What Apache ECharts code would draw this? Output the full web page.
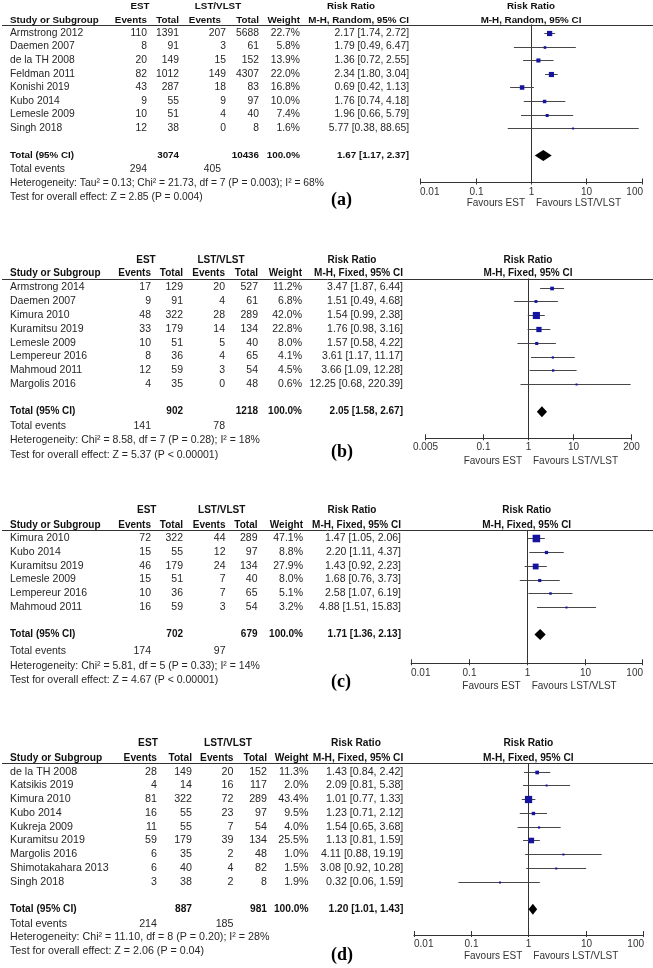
<!DOCTYPE html>
<html><head><meta charset="utf-8">
<script src="https://cdn.jsdelivr.net/npm/echarts@6.0.0/dist/echarts.min.js"></script>
<style>html,body{margin:0;padding:0;background:#fff}#c{width:653px;height:968px}</style>
</head><body><div id="c"></div><script>
// ---------- Panel (a) ----------
const studiesA = ['Armstrong 2012','Daemen 2007','de la TH 2008','Feldman 2011','Konishi 2019','Kubo 2014','Lemesle 2009','Singh 2018'];
const estEventsA = [110,8,20,82,43,9,10,12];
const estTotalA = [1391,91,149,1012,287,55,51,38];
const lstEventsA = [207,3,15,149,18,9,4,0];
const lstTotalA = [5688,61,152,4307,83,97,40,8];
const weightA = [22.7,5.8,13.9,22.0,16.8,10.0,7.4,1.6];
const rrA = [2.17,1.79,1.36,2.34,0.69,1.76,1.96,5.77];
const lowerA = [1.74,0.49,0.72,1.80,0.42,0.74,0.66,0.38];
const upperA = [2.72,6.47,2.55,3.04,1.13,4.18,5.79,88.65];
const totalsA = [3074,10436,100.0];
const pooledA = [1.67,1.17,2.37];
const totalEventsA = [294,405];
const methodA = 'M-H, Random, 95% CI';
const hetA = 'Heterogeneity: Tau\u00b2 = 0.13; Chi\u00b2 = 21.73, df = 7 (P = 0.003); I\u00b2 = 68%';
const testA = 'Test for overall effect: Z = 2.85 (P = 0.004)';
const ticksA = [0.01,0.1,1,10,100];

// ---------- Panel (b) ----------
const studiesB = ['Armstrong 2014','Daemen 2007','Kimura 2010','Kuramitsu 2019','Lemesle 2009','Lempereur 2016','Mahmoud 2011','Margolis 2016'];
const estEventsB = [17,9,48,33,10,8,12,4];
const estTotalB = [129,91,322,179,51,36,59,35];
const lstEventsB = [20,4,28,14,5,4,3,0];
const lstTotalB = [527,61,289,134,40,65,54,48];
const weightB = [11.2,6.8,42.0,22.8,8.0,4.1,4.5,0.6];
const rrB = [3.47,1.51,1.54,1.76,1.57,3.61,3.66,12.25];
const lowerB = [1.87,0.49,0.99,0.98,0.58,1.17,1.09,0.68];
const upperB = [6.44,4.68,2.38,3.16,4.22,11.17,12.28,220.39];
const totalsB = [902,1218,100.0];
const pooledB = [2.05,1.58,2.67];
const totalEventsB = [141,78];
const methodB = 'M-H, Fixed, 95% CI';
const hetB = 'Heterogeneity: Chi\u00b2 = 8.58, df = 7 (P = 0.28); I\u00b2 = 18%';
const testB = 'Test for overall effect: Z = 5.37 (P < 0.00001)';
const ticksB = [0.005,0.1,1,10,200];

// ---------- Panel (c) ----------
const studiesC = ['Kimura 2010','Kubo 2014','Kuramitsu 2019','Lemesle 2009','Lempereur 2016','Mahmoud 2011'];
const estEventsC = [72,15,46,15,10,16];
const estTotalC = [322,55,179,51,36,59];
const lstEventsC = [44,12,24,7,7,3];
const lstTotalC = [289,97,134,40,65,54];
const weightC = [47.1,8.8,27.9,8.0,5.1,3.2];
const rrC = [1.47,2.20,1.43,1.68,2.58,4.88];
const lowerC = [1.05,1.11,0.92,0.76,1.07,1.51];
const upperC = [2.06,4.37,2.23,3.73,6.19,15.83];
const totalsC = [702,679,100.0];
const pooledC = [1.71,1.36,2.13];
const totalEventsC = [174,97];
const methodC = 'M-H, Fixed, 95% CI';
const hetC = 'Heterogeneity: Chi\u00b2 = 5.81, df = 5 (P = 0.33); I\u00b2 = 14%';
const testC = 'Test for overall effect: Z = 4.67 (P < 0.00001)';
const ticksC = [0.01,0.1,1,10,100];

// ---------- Panel (d) ----------
const studiesD = ['de la TH 2008','Katsikis 2019','Kimura 2010','Kubo 2014','Kukreja 2009','Kuramitsu 2019','Margolis 2016','Shimotakahara 2013','Singh 2018'];
const estEventsD = [28,4,81,16,11,59,6,6,3];
const estTotalD = [149,14,322,55,55,179,35,40,38];
const lstEventsD = [20,16,72,23,7,39,2,4,2];
const lstTotalD = [152,117,289,97,54,134,48,82,8];
const weightD = [11.3,2.0,43.4,9.5,4.0,25.5,1.0,1.5,1.9];
const rrD = [1.43,2.09,1.01,1.23,1.54,1.13,4.11,3.08,0.32];
const lowerD = [0.84,0.81,0.77,0.71,0.65,0.81,0.88,0.92,0.06];
const upperD = [2.42,5.38,1.33,2.12,3.68,1.59,19.19,10.28,1.59];
const totalsD = [887,981,100.0];
const pooledD = [1.20,1.01,1.43];
const totalEventsD = [214,185];
const methodD = 'M-H, Fixed, 95% CI';
const hetD = 'Heterogeneity: Chi\u00b2 = 11.10, df = 8 (P = 0.20); I\u00b2 = 28%';
const testD = 'Test for overall effect: Z = 2.06 (P = 0.04)';
const ticksD = [0.01,0.1,1,10,100];

const tags = ['(a)','(b)','(c)','(d)'];

// ---------- Layout (pixel positions, separate from data) ----------
const layouts = [
  {hdr1:6, hdr2:20, under:24.5, row0:33, step:13.6, foot:[169,183,197], axisY:182.5, labelY:192.5, favY:203.5, tagY:200,
   x1px:531, decade:55.3, fs:10.3, center:false,
   cols:{name:10, ee:147, et:179, le:226, leH:221, lt:259, w:300, rr:409, estC:140, lstC:218, rrHC:351}},
  {hdr1:260, hdr2:273.3, under:278.5, row0:287.5, step:13.8, foot:[426,440.5,455], axisY:438.3, labelY:447.5, favY:461, tagY:452,
   x1px:528, decade:44.6, fs:10.5, center:true,
   cols:{name:10, ee:151, et:183, le:225, leH:225, lt:258, w:302, rr:403, estC:146, lstC:221, rrHC:352}},
  {hdr1:510.7, hdr2:525, under:530, row0:538.3, step:13.75, foot:[651.5,666,680], axisY:663.3, labelY:673.3, favY:686, tagY:682,
   x1px:526.7, decade:57.8, fs:10.5, center:false,
   cols:{name:10, ee:151, et:183, le:225.5, leH:225.5, lt:257.5, w:303, rr:401, estC:146.7, lstC:221.7, rrHC:352}},
  {hdr1:743.3, hdr2:758.3, under:763.3, row0:771.7, step:13.75, foot:[924,937.5,951], axisY:935, labelY:944.5, favY:956.7, tagY:955,
   x1px:528.3, decade:57.2, fs:10.7, center:false,
   cols:{name:10, ee:157, et:192, le:233.5, leH:233.5, lt:267, w:308.5, rr:403.3, estC:148, lstC:228, rrHC:356}}
];

const panels = [
  {studies:studiesA, ee:estEventsA, et:estTotalA, le:lstEventsA, lt:lstTotalA, w:weightA, rr:rrA, lo:lowerA, hi:upperA, totals:totalsA, pooled:pooledA, tev:totalEventsA, method:methodA, het:hetA, test:testA, ticks:ticksA},
  {studies:studiesB, ee:estEventsB, et:estTotalB, le:lstEventsB, lt:lstTotalB, w:weightB, rr:rrB, lo:lowerB, hi:upperB, totals:totalsB, pooled:pooledB, tev:totalEventsB, method:methodB, het:hetB, test:testB, ticks:ticksB},
  {studies:studiesC, ee:estEventsC, et:estTotalC, le:lstEventsC, lt:lstTotalC, w:weightC, rr:rrC, lo:lowerC, hi:upperC, totals:totalsC, pooled:pooledC, tev:totalEventsC, method:methodC, het:hetC, test:testC, ticks:ticksC},
  {studies:studiesD, ee:estEventsD, et:estTotalD, le:lstEventsD, lt:lstTotalD, w:weightD, rr:rrD, lo:lowerD, hi:upperD, totals:totalsD, pooled:pooledD, tev:totalEventsD, method:methodD, het:hetD, test:testD, ticks:ticksD}
];

const FONT = '"Liberation Sans", Arial, sans-serif';
const TXT = '#262626', HDR = '#111';
const G = [];
function txt(x, y, s, size, bold, align, fill) {
  G.push({type:'text', x:x, y:y, silent:true,
    style:{text:s, fill:fill || (bold ? HDR : TXT), font:(bold ? 'bold ' : '') + size + 'px ' + FONT,
      align:align || 'left', verticalAlign:'middle'}});
}
function fmtRR(r, l, h) { return r.toFixed(2) + ' [' + l.toFixed(2) + ', ' + h.toFixed(2) + ']'; }
const lg = Math.log10;

const grids = [], xAxes = [], yAxes = [], series = [];

panels.forEach((p, k) => {
  const L = layouts[k], C = L.cols, fs = L.fs, fb = fs - 0.5;
  const n = p.studies.length, totalIdx = n + 1;
  // header
  txt(C.estC, L.hdr1, 'EST', fb, true, 'center');
  txt(C.lstC, L.hdr1, 'LST/VLST', fb, true, 'center');
  txt(C.rrHC, L.hdr1, 'Risk Ratio', fb, true, 'center');
  txt(L.x1px, L.hdr1, 'Risk Ratio', fb, true, 'center');
  txt(C.name, L.hdr2, 'Study or Subgroup', fb, true, 'left');
  txt(C.ee, L.hdr2, 'Events', fb, true, 'right');
  txt(C.et, L.hdr2, 'Total', fb, true, 'right');
  txt(C.leH, L.hdr2, 'Events', fb, true, 'right');
  txt(C.lt, L.hdr2, 'Total', fb, true, 'right');
  txt(C.w, L.hdr2, 'Weight', fb, true, 'right');
  txt(C.rr, L.hdr2, p.method, fb, true, 'right');
  txt(L.x1px, L.hdr2, p.method, fb, true, 'center');
  const uy = Math.round(L.under) + 0.5;
  G.push({type:'line', silent:true, shape:{x1:2, y1:uy, x2:653, y2:uy}, style:{stroke:'#333', lineWidth:1}});
  // rows
  p.studies.forEach((s, i) => {
    const y = L.row0 + i * L.step;
    txt(C.name, y, s, fs, false, 'left');
    txt(C.ee, y, String(p.ee[i]), fs, false, 'right');
    txt(C.et, y, String(p.et[i]), fs, false, 'right');
    txt(C.le, y, String(p.le[i]), fs, false, 'right');
    txt(C.lt, y, String(p.lt[i]), fs, false, 'right');
    txt(C.w, y, p.w[i].toFixed(1) + '%', fs, false, 'right');
    txt(C.rr, y, fmtRR(p.rr[i], p.lo[i], p.hi[i]), fs, false, 'right');
  });
  // total
  const ty = L.row0 + totalIdx * L.step;
  txt(C.name, ty, 'Total (95% CI)', fb, true, 'left');
  txt(C.et, ty, String(p.totals[0]), fb, true, 'right');
  txt(C.lt, ty, String(p.totals[1]), fb, true, 'right');
  txt(C.w, ty, p.totals[2].toFixed(1) + '%', fb, true, 'right');
  txt(C.rr, ty, fmtRR(p.pooled[0], p.pooled[1], p.pooled[2]), fb, true, 'right');
  // footer
  txt(C.name, L.foot[0], 'Total events', fs, false, 'left');
  txt(C.ee, L.foot[0], String(p.tev[0]), fs, false, 'right');
  txt(C.leH, L.foot[0], String(p.tev[1]), fs, false, 'right');
  txt(C.name, L.foot[1], p.het, fs, false, 'left');
  txt(C.name, L.foot[2], p.test, fs, false, 'left');
  // favours + tag
  txt(L.x1px - 6, L.favY, 'Favours EST', 10, false, 'right', '#333');
  txt(L.x1px + 5, L.favY, 'Favours LST/VLST', 10, false, 'left', '#333');
  G.push({type:'text', x:331, y:L.tagY, silent:true,
    style:{text:tags[k], fill:'#000', font:'bold 18px "Liberation Serif", "Times New Roman", serif', align:'left', verticalAlign:'middle'}});

  // plot coordinate system
  const xmin = lg(p.ticks[0]), xmax = lg(p.ticks[p.ticks.length - 1]);
  const left = L.x1px + xmin * L.decade, width = (xmax - xmin) * L.decade;
  const yMin = (L.under - L.row0) / L.step, yMax = (L.axisY - L.row0) / L.step;
  grids.push({left:left, top:L.under, width:width, height:L.axisY - L.under, containLabel:false});
  xAxes.push({type:'value', gridIndex:k, min:xmin, max:xmax, position:'bottom',
    axisLine:{show:true, onZero:false, lineStyle:{color:'#333', width:1}}, axisTick:{show:false}, axisLabel:{show:false}, splitLine:{show:false}});
  yAxes.push({type:'value', gridIndex:k, min:yMin, max:yMax, inverse:true, show:false, splitLine:{show:false},
    axisLine:{onZero:false}});

  // reference line at RR = 1
  series.push({type:'custom', xAxisIndex:k, yAxisIndex:k, silent:true, data:[[lg(1), yMin]],
    renderItem:(params, api) => {
      const cs = params.coordSys, c = api.coord([api.value(0), api.value(1)]);
      const x = Math.round(c[0]) + 0.5;
      return {type:'line', shape:{x1:x, y1:cs.y, x2:x, y2:cs.y + cs.height}, style:{stroke:'#333', lineWidth:1}};
    }});
  // CI lines + weighted squares
  series.push({type:'custom', xAxisIndex:k, yAxisIndex:k, silent:true,
    data:p.rr.map((v, i) => [lg(p.lo[i]), lg(p.hi[i]), lg(v), i, p.w[i]]),
    encode:{x:[0, 1, 2], y:3},
    renderItem:(params, api) => {
      const cs = params.coordSys;
      const a = api.coord([api.value(0), api.value(3)]);
      const b = api.coord([api.value(1), api.value(3)]);
      const c = api.coord([api.value(2), api.value(3)]);
      const x0 = Math.max(a[0], cs.x), x1 = Math.min(b[0], cs.x + cs.width);
      const s = Math.max(2, 1.1 * Math.sqrt(api.value(4)));
      const y = Math.round(c[1]) + 0.5;
      return {type:'group', children:[
        {type:'line', shape:{x1:x0, y1:y, x2:x1, y2:y}, style:{stroke:'#474747', lineWidth:1}},
        {type:'rect', shape:{x:c[0] - s / 2, y:y - s / 2, width:s, height:s}, style:{fill:'#1414a0'}}
      ]};
    }});
  // pooled diamond
  series.push({type:'custom', xAxisIndex:k, yAxisIndex:k, silent:true,
    data:[[lg(p.pooled[1]), lg(p.pooled[2]), lg(p.pooled[0]), totalIdx]],
    encode:{x:[0, 1, 2], y:3},
    renderItem:(params, api) => {
      const a = api.coord([api.value(0), api.value(3)]);
      const b = api.coord([api.value(1), api.value(3)]);
      const c = api.coord([api.value(2), api.value(3)]);
      const h = 5.5;
      return {type:'polygon', shape:{points:[[a[0], c[1]], [c[0], c[1] - h], [b[0], c[1]], [c[0], c[1] + h]]}, style:{fill:'#000'}};
    }});
  // axis ticks + labels
  const nt = p.ticks.length, centered = L.center, dy = L.labelY - L.axisY;
  series.push({type:'custom', xAxisIndex:k, yAxisIndex:k, silent:true,
    data:p.ticks.map((t, j) => [lg(t), yMax, j]),
    renderItem:(params, api) => {
      const c = api.coord([api.value(0), api.value(1)]);
      const j = api.value(2);
      const x = Math.round(c[0]) + 0.5;
      const align = centered ? 'center' : (j === 0 ? 'left' : (j === nt - 1 ? 'right' : 'center'));
      const label = String(p.ticks[j]);
      return {type:'group', children:[
        {type:'line', shape:{x1:x, y1:c[1] - 4, x2:x, y2:c[1] + 2}, style:{stroke:'#333', lineWidth:1}},
        {type:'text', x:(align === 'left' ? x - 0.5 : (align === 'right' ? x + 0.5 : x)), y:c[1] + dy,
          style:{text:label, fill:'#333', font:'10px ' + FONT, align:align, verticalAlign:'middle'}}
      ]};
    }});
});

const chart = echarts.init(document.getElementById('c'), null, {renderer:'canvas'});
chart.setOption({
  animation:false,
  backgroundColor:'#fff',
  grid:grids, xAxis:xAxes, yAxis:yAxes, series:series,
  graphic:{elements:G}
});
</script></body></html>
